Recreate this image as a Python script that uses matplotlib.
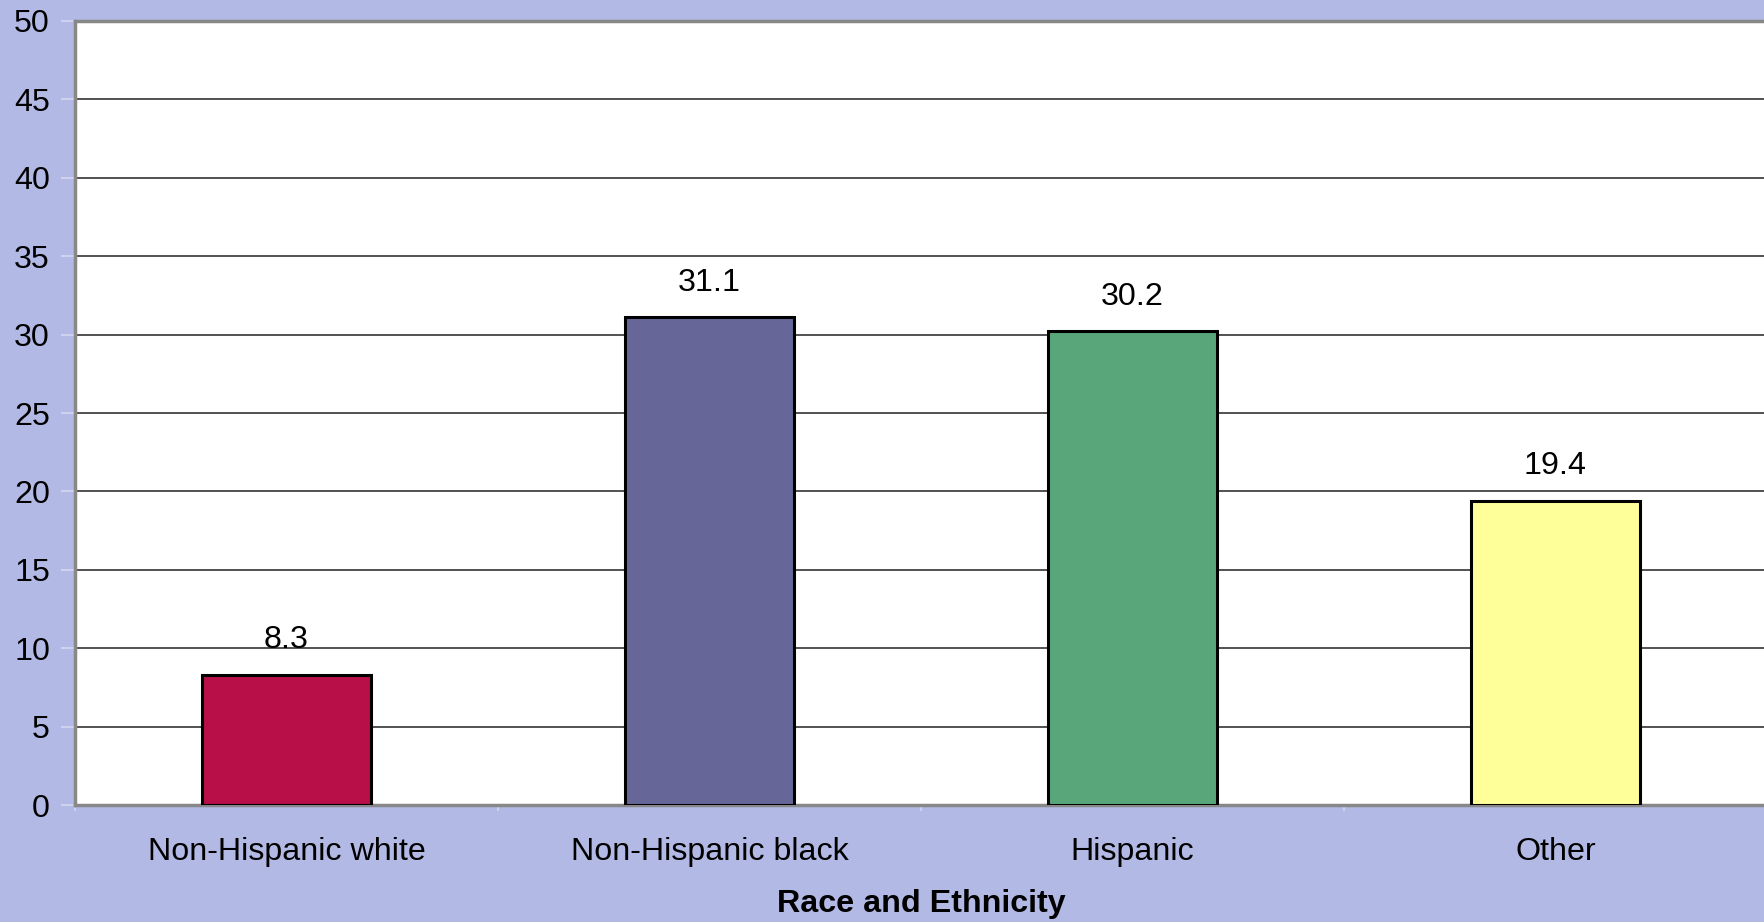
import matplotlib
matplotlib.use("Agg")
import matplotlib.pyplot as plt
import numpy as np

# ── Data ──────────────────────────────────────────────────────────────────────

categories = ["Non-Hispanic white", "Non-Hispanic black", "Hispanic", "Other"]
values     = [8.3, 31.1, 30.2, 19.4]
bar_colors = ["#B80F48", "#666699", "#59A67A", "#FFFF99"]
y_ticks    = list(range(0, 55, 5))

BG = "#B3B9E5"
FS = 23.2

plt.rcParams["font.family"] = ["Liberation Sans", "DejaVu Sans"]

# ── Figure ────────────────────────────────────────────────────────────────────

W, H = 1765, 922
fig = plt.figure(figsize=(W / 100, H / 100), dpi=100, facecolor=BG)
ax = fig.add_axes([75 / W, (H - 805) / H, (1767 - 75) / W, (805 - 21) / H])
ax.set_facecolor("white")

x = np.arange(len(categories)) + 0.5
ax.bar(x, values, width=0.4, color=bar_colors, edgecolor="black",
       linewidth=2.2, zorder=3)

for xi, v in zip(x, values):
    ax.annotate(f"{v}", (xi, v), xytext=(0, 14), textcoords="offset points",
                ha="center", va="bottom", fontsize=FS, color="black")

ax.set_xlim(0, len(categories))
ax.set_ylim(0, 50)
ax.set_yticks(y_ticks)
ax.set_yticklabels([str(t) for t in y_ticks], fontsize=FS)
ax.yaxis.grid(True, color="#333333", linewidth=1.2, zorder=0)
ax.set_axisbelow(True)

# category labels sit between the boundary tick marks
ax.set_xticks(np.arange(len(categories) + 1))
ax.set_xticklabels([])
ax.set_xticks(x, minor=True)
ax.set_xticklabels(categories, minor=True, fontsize=FS)
ax.tick_params(axis="x", which="minor", length=0, pad=23)
ax.tick_params(axis="x", which="major", length=4, color="#D4D8F2", width=1.2)
ax.tick_params(axis="y", length=10, color="#D4D8F2", width=1.2, pad=8)

for side in ["left", "bottom", "top", "right"]:
    ax.spines[side].set_color("#888888")
    ax.spines[side].set_linewidth(2.5)

ax.set_xlabel("Race and Ethnicity", fontsize=FS, fontweight="bold", labelpad=16)

fig.savefig("out.png", dpi=100, facecolor=BG)
